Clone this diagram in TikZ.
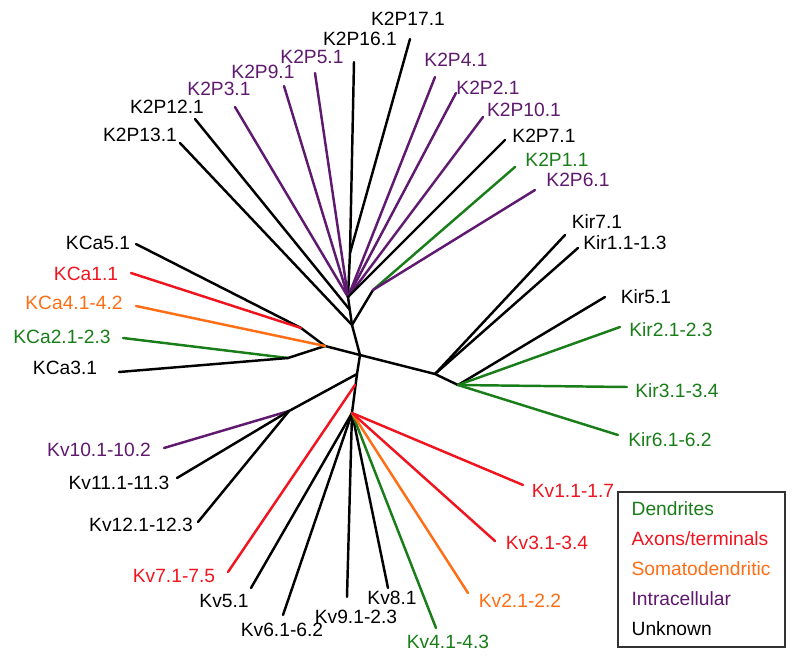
\documentclass[tikz,border=0pt]{standalone}
\usepackage{fontspec}
\setmainfont{Liberation Sans}
\definecolor{dend}{RGB}{25,125,25}
\definecolor{axon}{RGB}{240,20,30}
\definecolor{soma}{RGB}{255,110,20}
\definecolor{intra}{RGB}{95,25,110}

\begin{document}
\begin{tikzpicture}[
  x=0.03cm,y=-0.03cm,
  branch/.style={draw=#1,line width=2.1pt,line cap=round},
  branch/.default=black,
  tag/.style={font=\fontsize{16.4}{19}\selectfont,text=#1,inner sep=0pt},
  tag/.default=black,
  keybox/.style={draw=black!80,line width=1pt,minimum width=5.01cm,minimum height=4.65cm,inner sep=0pt},
]
\useasboundingbox (0,0) rectangle (800,668);

% inner junctions of the tree
\coordinate (root) at (360,355);
\coordinate (k2p) at (352,325);
\coordinate (k2pmid) at (350,310);
\coordinate (k2pfan) at (348,297);
\coordinate (k2ptop) at (350,253);
\coordinate (k2pside) at (373,290);
\coordinate (kca) at (325,346);
\coordinate (kcaup) at (301,328);
\coordinate (kcalow) at (288,358);
\coordinate (kir) at (435,374);
\coordinate (kirlow) at (458,385);
\coordinate (kv) at (357,374);
\coordinate (kvred) at (355,385);
\coordinate (kvleft) at (289,411);
\coordinate (kvfan) at (352,413);

% backbone
\draw[branch] (root) -- (k2p) -- (k2pfan) -- (k2ptop);
\draw[branch] (k2p) -- (k2pside);
\draw[branch] (root) -- (kca) -- (kcaup);
\draw[branch] (kca) -- (kcalow);
\draw[branch] (root) -- (kir) -- (kirlow);
\draw[branch] (root) -- (kv) -- (kvleft);
\draw[branch] (kv) -- (kvfan);

% leaves: name/tip/label/colour/text/junction
\foreach \nm/\tx/\ty/\lx/\ly/\col/\txt/\from in {
  k2p3/235/107/219/89/intra/K2P3.1/k2pfan,
  k2p9/284/86/263/72/intra/K2P9.1/k2pfan,
  k2p5/315/73/312/57/intra/K2P5.1/k2pfan,
  k2p4/435/77/456/60/intra/K2P4.1/k2pfan,
  k2p2/456/93/488/88/intra/K2P2.1/k2pfan,
  k2p10/483/117/524/110/intra/K2P10.1/k2pfan,
  k2p7/505/140/544/136/black/K2P7.1/k2pfan,
  k2p16/354/62/360/39/black/K2P16.1/k2ptop,
  k2p17/410/39/408/19/black/K2P17.1/k2ptop,
  k2p13/180/143/140/135/black/K2P13.1/k2p,
  k2p12/195/119/167/107/black/K2P12.1/k2pmid,
  k2p1/515/167/557/160/dend/K2P1.1/k2pside,
  k2p6/535/190/578/180/intra/K2P6.1/k2pside,
  kca4/136/306/74/303/soma/KCa4.1-4.2/kca,
  kca5/136/244/98/243/black/KCa5.1/kcaup,
  kca1/131/273/86/274/axon/KCa1.1/kcaup,
  kca2/123/338/62/337/dend/KCa2.1-2.3/kcalow,
  kca3/119/372/65/368/black/KCa3.1/kcalow,
  kir7/565/235/597/222/black/Kir7.1/kir,
  kir1/578/248/625/243/black/Kir1.1-1.3/kir,
  kir5/605/297/646/297/black/Kir5.1/kirlow,
  kir2/620/327/671/330/dend/Kir2.1-2.3/kirlow,
  kir3/627/387/677/391/dend/Kir3.1-3.4/kirlow,
  kir6/618/435/670/440/dend/Kir6.1-6.2/kirlow,
  kv7/228/572/174/576/axon/Kv7.1-7.5/kvred,
  kv10/164/448/99/450/intra/Kv10.1-10.2/kvleft,
  kv11/177/478/119/483/black/Kv11.1-11.3/kvleft,
  kv12/198/522/141/525/black/Kv12.1-12.3/kvleft,
  kv5/251/588/224/601/black/Kv5.1/kvfan,
  kv6/283/615/282/630/black/Kv6.1-6.2/kvfan,
  kv9/347/597/356/617/black/Kv9.1-2.3/kvfan,
  kv8/388/588/392/598/black/Kv8.1/kvfan,
  kv4/436/628/448/642/dend/Kv4.1-4.3/kvfan,
  kv2/468/593/520/601/soma/Kv2.1-2.2/kvfan,
  kv3/495/541/547/543/axon/Kv3.1-3.4/kvfan,
  kv1/523/485/573/491/axon/Kv1.1-1.7/kvfan} {
  \coordinate (\nm tip) at (\tx,\ty);
  \node[tag=\col] (\nm) at (\lx,\ly) {\txt};
  \draw[branch=\col] (\from) -- (\nm tip);
}

% legend
\node[keybox] (key) at (701.5,569.5) {};
\foreach \i/\col/\txt in {0/dend/Dendrites,1/axon/{Axons/terminals},2/soma/Somatodendritic,3/intra/Intracellular,4/black/Unknown}
  \node[tag=\col,anchor=west] (key\i) at ([xshift=14*0.03cm,yshift=-(17+30*\i)*0.03cm]key.north west) {\txt};

\end{tikzpicture}
\end{document}
